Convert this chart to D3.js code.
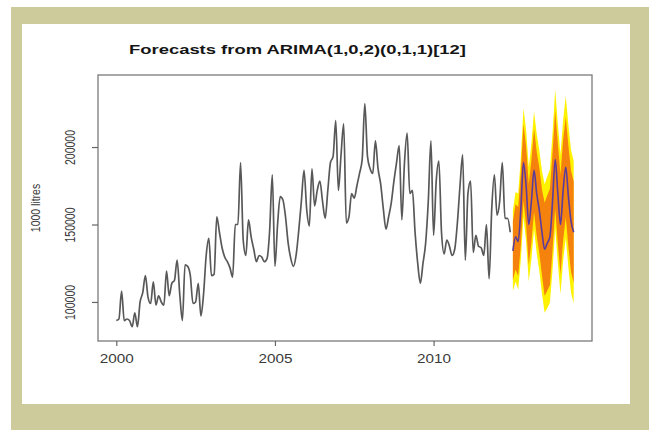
<!DOCTYPE html>
<html>
<head>
<meta charset="utf-8">
<script src="https://cdn.jsdelivr.net/npm/d3@7"></script>
<style>
  html, body { margin: 0; padding: 0; background: #fff; }
  svg { display: block; font-family: "Liberation Sans", Arial, sans-serif; }
</style>
</head>
<body>
<svg id="chart" width="649" height="430"></svg>
<script>
// monthly observations, Jan 2000 .. Jun 2012 (1000 litres)
const observed = [
  88000, 89000, 107000, 88000, 89000, 88000, 84000, 93000, 84000, 100000, 106000, 117000,
  103000, 99000, 113000, 98000, 104000, 100000, 98000, 120000, 104000, 112000, 114000, 127000,
  105000, 88000, 124000, 123000, 117000, 99000, 100000, 112000, 91000, 105000, 130000, 141000,
  117000, 118000, 155000, 145000, 135000, 129000, 126000, 122000, 116000, 150000, 150000, 190000,
  140000, 130000, 153000, 142000, 134000, 126000, 130000, 129000, 126000, 128000, 146000, 182000,
  123000, 150000, 168000, 166000, 155000, 138000, 128000, 123000, 130000, 146000, 165000, 185000,
  160000, 149000, 186000, 162000, 172000, 178000, 165000, 154000, 172000, 190000, 194000, 217000,
  172000, 195000, 215000, 151000, 155000, 170000, 167000, 175000, 183000, 192000, 228000, 194000,
  186000, 183000, 204000, 186000, 176000, 160000, 147000, 155000, 164000, 178000, 190000, 201000,
  153000, 190000, 209000, 170000, 172000, 145000, 125000, 112000, 125000, 138000, 165000, 204000,
  143000, 178000, 191000, 145000, 131000, 140000, 136000, 130000, 134000, 151000, 175000, 195000,
  127000, 170000, 178000, 132000, 143000, 136000, 135000, 130000, 150000, 115000, 160000, 182000,
  156000, 165000, 190000, 154000, 154000, 145000
];

// 24-month forecast, Jul 2012 .. Jun 2014
const fcMean = [
  133000, 142000, 139000, 160000, 190000, 175000, 150000, 165000, 185000, 170000, 159000, 145000,
  134000, 138000, 142000, 165000, 192000, 170000, 150000, 172000, 187000, 168000, 152000, 145000
];
const fcLo80 = [
  114000, 121000, 116700, 136400, 165100, 149500, 123800, 138500, 158100, 142800, 131500, 117200,
  103900, 107200, 110900, 133600, 160200, 137900, 117900, 139600, 154600, 135300, 119300, 112300
];
const fcHi80 = [
  152000, 163000, 161300, 183600, 214900, 200500, 176200, 191500, 211900, 197200, 186500, 172800,
  164100, 168800, 173100, 196400, 223800, 202100, 182100, 204400, 219400, 200700, 184700, 177700
];
const fcLo95 = [
  107000, 113000, 108000, 127000, 155000, 139000, 113000, 127500, 147000, 131500, 120000, 105500,
  93000, 96000, 99500, 121000, 147500, 125000, 105000, 126500, 141500, 122000, 106000, 99000
];
const fcHi95 = [
  159000, 171000, 170000, 193000, 225000, 211000, 187000, 202500, 223000, 208500, 198000, 184500,
  176000, 181000, 185500, 209000, 237000, 215000, 195000, 217500, 233000, 214000, 198000, 191000
];

const startYear = 2000;
const xTicks = [2000, 2005, 2010];
const yTicks = [100000, 150000, 200000];
const title = "Forecasts from ARIMA(1,0,2)(0,1,1)[12]";
const yTitle = "1000 litres";

const svg = d3.select("#chart");

// frame round the picture
svg.append("rect")
    .attr("x", 11).attr("y", 7)
    .attr("width", 638).attr("height", 423)
    .attr("fill", "#cdcb9b");
svg.append("rect")
    .attr("x", 22).attr("y", 24)
    .attr("width", 608).attr("height", 380)
    .attr("fill", "#fff");

const plot = { left: 98, top: 75, right: 592, bottom: 341 };

const lastT = startYear + (observed.length + fcMean.length - 1) / 12;
const pad = (lastT - startYear) * 0.04;
const x = d3.scaleLinear()
    .domain([startYear - pad, lastT + pad])
    .range([plot.left, plot.right]);
const y = d3.scaleLinear()
    .domain([74800, 246500])
    .range([plot.bottom, plot.top]);

const obs = observed.map((v, i) => ({ t: startYear + i / 12, v }));
const fc = fcMean.map((v, i) => ({
  t: startYear + (observed.length + i) / 12,
  mean: v,
  lo80: fcLo80[i], hi80: fcHi80[i],
  lo95: fcLo95[i], hi95: fcHi95[i]
}));

const defs = svg.append("defs");
defs.append("filter")
    .attr("id", "soft")
    .attr("x", "-5%").attr("y", "-5%")
    .attr("width", "110%").attr("height", "110%")
  .append("feGaussianBlur")
    .attr("stdDeviation", 0.7);
defs.append("filter")
    .attr("id", "softline")
    .attr("x", "-2%").attr("y", "-2%")
    .attr("width", "104%").attr("height", "104%")
  .append("feGaussianBlur")
    .attr("stdDeviation", 0.35);

// prediction intervals
const band = (lo, hi) => d3.area()
    .x(d => x(d.t))
    .y0(d => y(d[lo]))
    .y1(d => y(d[hi]));

svg.append("path")
    .datum(fc)
    .attr("d", band("lo95", "hi95"))
    .attr("fill", "#fff200")
    .attr("filter", "url(#soft)");
svg.append("path")
    .datum(fc)
    .attr("d", band("lo80", "hi80"))
    .attr("fill", "#f5820c")
    .attr("filter", "url(#soft)");

// observed series
svg.append("path")
    .datum(obs)
    .attr("d", d3.line().curve(d3.curveMonotoneX).x(d => x(d.t)).y(d => y(d.v)))
    .attr("fill", "none")
    .attr("stroke", "#595959")
    .attr("stroke-width", 1.7)
    .attr("stroke-linejoin", "round")
    .attr("filter", "url(#softline)");

// point forecasts
svg.append("path")
    .datum(fc)
    .attr("d", d3.line().curve(d3.curveMonotoneX).x(d => x(d.t)).y(d => y(d.mean)))
    .attr("fill", "none")
    .attr("stroke", "#5a3c9c")
    .attr("stroke-width", 1.6)
    .attr("stroke-linejoin", "round");

// box
svg.append("rect")
    .attr("x", plot.left).attr("y", plot.top)
    .attr("width", plot.right - plot.left)
    .attr("height", plot.bottom - plot.top)
    .attr("fill", "none")
    .attr("stroke", "#7a7a7a")
    .attr("stroke-width", 1.3);

// x axis
const xAxis = svg.append("g")
    .attr("transform", `translate(0,${plot.bottom})`)
    .call(d3.axisBottom(x).tickValues(xTicks).tickSize(5).tickFormat(d3.format("d")));
xAxis.select(".domain").remove();
xAxis.selectAll(".tick line").attr("stroke", "#666").attr("stroke-width", 1.2);
xAxis.selectAll(".tick text")
    .attr("y", 22)
    .attr("dy", null)
    .attr("fill", "#3a3a3a")
    .attr("font-size", 12)
    .attr("textLength", 34)
    .attr("lengthAdjust", "spacingAndGlyphs");

// y axis
const yAxis = svg.append("g")
    .attr("transform", `translate(${plot.left},0)`)
    .call(d3.axisLeft(y).tickValues(yTicks).tickSize(6).tickFormat(d3.format("d")));
yAxis.select(".domain").remove();
yAxis.selectAll(".tick line").attr("stroke", "#666").attr("stroke-width", 1.2);
yAxis.selectAll(".tick text").remove();
yAxis.selectAll(".tick")
  .append("text")
    .attr("transform", "translate(-23,0) scale(1.35,1) rotate(-90)")
    .attr("text-anchor", "middle")
    .attr("fill", "#3a3a3a")
    .attr("font-size", 10.5)
    .text(d => d);

// titles
svg.append("text")
    .attr("x", 129)
    .attr("y", 54)
    .attr("font-size", 12.5)
    .attr("font-weight", "bold")
    .attr("fill", "#151515")
    .attr("textLength", 337)
    .attr("lengthAdjust", "spacingAndGlyphs")
    .text(title);

svg.append("text")
    .attr("transform", `translate(40,${(plot.top + plot.bottom) / 2}) scale(1.3,1) rotate(-90)`)
    .attr("text-anchor", "middle")
    .attr("font-size", 10.5)
    .attr("fill", "#3a3a3a")
    .text(yTitle);
</script>
</body>
</html>
